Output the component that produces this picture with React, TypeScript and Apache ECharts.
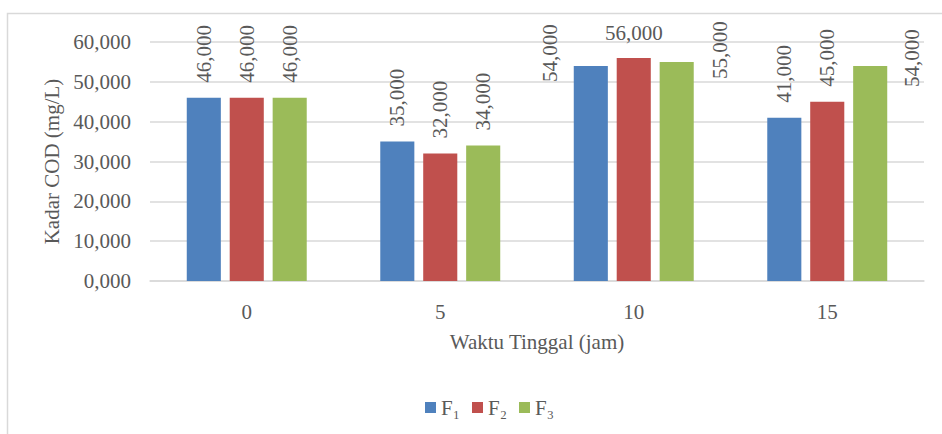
import React, { useEffect, useRef } from "react";
import * as echarts from "echarts";

const categories = ["0", "5", "10", "15"];
const seriesNames = ["F₁", "F₂", "F₃"];
const f1Values = [46, 35, 54, 41];
const f2Values = [46, 32, 56, 45];
const f3Values = [46, 34, 55, 54];
const yTicks = { min: 0, max: 60, interval: 10 };

const colors = ["#4f81bd", "#c0504d", "#9bbb59"];
const FONT = "Liberation Serif";
const TEXT = "#595959";

const fmt = (v: number) => v.toFixed(3).replace(".", ",");

// label placement overrides (series index -> data index -> label opts)
const labelOverrides: Record<string, any> = {
  "0-2": { position: [-24, 16], align: "left", verticalAlign: "middle" },
  "1-2": { rotate: 0, position: "top", align: "center", verticalAlign: "bottom", distance: 14 },
  "2-2": { position: [60, 17], align: "left", verticalAlign: "middle" },
  "2-3": { position: [59, 21], align: "left", verticalAlign: "middle" },
};

export default function App() {
  const ref = useRef<HTMLDivElement>(null);
  useEffect(() => {
    if (!ref.current) return;
    const chart = echarts.init(ref.current, undefined, { renderer: "svg" });
    const all = [f1Values, f2Values, f3Values];
    const series = all.map((vals, si) => ({
      name: seriesNames[si],
      type: "bar",
      barGap: "26%",
      barCategoryGap: "38%",
      itemStyle: { color: colors[si] },
      label: {
        show: true,
        position: "top",
        distance: 15,
        rotate: 90,
        align: "left",
        verticalAlign: "middle",
        fontFamily: FONT,
        fontSize: 21,
        color: TEXT,
        formatter: (p: any) => fmt(p.value),
      },
      data: vals.map((v, di) => {
        const o = labelOverrides[`${si}-${di}`];
        return o ? { value: v, label: o } : v;
      }),
    }));
    chart.setOption({
      animation: false,
      backgroundColor: "#ffffff",
      textStyle: { fontFamily: FONT },
      graphic: [
        {
          type: "rect",
          shape: { x: 7.5, y: 13.5, width: 1200, height: 800 },
          style: { fill: "none", stroke: "#d9d9d9", lineWidth: 1.5 },
          silent: true,
          z: -10,
        },
      ],
      legend: {
        left: 420,
        top: 392,
        itemWidth: 11,
        itemHeight: 11,
        itemGap: 12,
        icon: "rect",
        textStyle: { fontFamily: FONT, fontSize: 21, color: TEXT },
        data: seriesNames,
      },
      grid: { left: 150, right: 18, top: 42, bottom: 153 },
      xAxis: {
        type: "category",
        data: categories,
        name: "Waktu Tinggal (jam)",
        nameLocation: "middle",
        nameGap: 50,
        nameTextStyle: { fontFamily: FONT, fontSize: 21, color: TEXT },
        axisLine: { lineStyle: { color: "#d9d9d9", width: 1.5 } },
        axisTick: { show: false },
        axisLabel: { fontFamily: FONT, fontSize: 21, color: TEXT, margin: 20 },
      },
      yAxis: {
        type: "value",
        min: yTicks.min,
        max: yTicks.max,
        interval: yTicks.interval,
        name: "Kadar COD (mg/L)",
        nameLocation: "middle",
        nameGap: 88,
        nameTextStyle: { fontFamily: FONT, fontSize: 21, color: TEXT },
        axisLine: { show: false },
        axisTick: { show: false },
        splitLine: { lineStyle: { color: "#d9d9d9", width: 1.5 } },
        axisLabel: { fontFamily: FONT, fontSize: 21, color: TEXT, margin: 19, formatter: (v: number) => fmt(v) },
      },
      series,
    });
    return () => chart.dispose();
  }, []);
  return (
    <div
      ref={ref}
      style={{ position: "fixed", left: 0, top: 0, width: 942, height: 434 }}
    />
  );
}
